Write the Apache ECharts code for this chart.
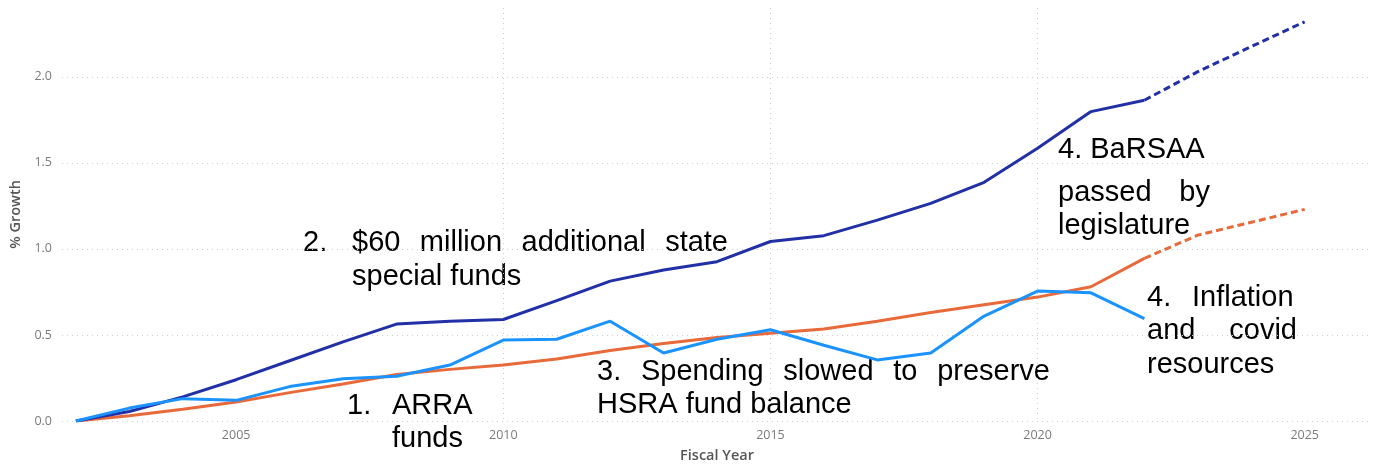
<!DOCTYPE html>
<html>
<head>
<meta charset="utf-8">
<script src="https://cdn.jsdelivr.net/npm/echarts@6/dist/echarts.min.js"></script>
<style>
  html, body { margin: 0; padding: 0; background: #fff; }
  #chart { width: 1377px; height: 466px; }
</style>
</head>
<body>
<div id="chart"></div>
<script>
// Fiscal years with actuals, and the projected tail
const years = [2002, 2003, 2004, 2005, 2006, 2007, 2008, 2009, 2010, 2011, 2012,
  2013, 2014, 2015, 2016, 2017, 2018, 2019, 2020, 2021, 2022];
const projYears = [2022, 2023, 2024, 2025];
const xTicks = [2005, 2010, 2015, 2020, 2025];

// % growth since 2002
const budgetGrowth = [0, 0.055, 0.14, 0.24, 0.35, 0.46, 0.563, 0.58, 0.59, 0.70, 0.813,
  0.878, 0.926, 1.043, 1.077, 1.167, 1.265, 1.387, 1.585, 1.798, 1.864];
const budgetProj = [1.864, 2.03, 2.176, 2.32];

const costGrowth = [0, 0.03, 0.068, 0.11, 0.165, 0.215, 0.27, 0.30, 0.325, 0.36, 0.41,
  0.45, 0.485, 0.51, 0.535, 0.58, 0.63, 0.675, 0.72, 0.78, 0.945];
const costProj = [0.945, 1.08, 1.155, 1.23];

const spendingGrowth = [0, 0.075, 0.13, 0.12, 0.20, 0.245, 0.26, 0.325, 0.47, 0.475, 0.58,
  0.395, 0.475, 0.53, 0.44, 0.355, 0.395, 0.61, 0.755, 0.745, 0.595];

const NAVY = '#2130a6';
const ORANGE = '#e8693a';
const SKY = '#1a93ff';

const pairs = (xs, ys) => xs.map((x, i) => [x, ys[i]]);

// annotation text: words spread between two edges like justified text
const NOTE_FONT = '29px "Liberation Sans", Arial, sans-serif';
const measure = document.createElement('canvas').getContext('2d');
measure.font = NOTE_FONT;

function note(text, x, y) {
  return {
    type: 'text', x, y, silent: true,
    style: { text, font: NOTE_FONT, fill: '#000', verticalAlign: 'middle' }
  };
}

function justified(words, x0, x1, y) {
  const widths = words.map((w) => measure.measureText(w).width);
  const total = widths.reduce((a, b) => a + b, 0);
  const gap = words.length > 1 ? (x1 - x0 - total) / (words.length - 1) : 0;
  let x = x0;
  return words.map((w, i) => {
    const el = note(w, x, y);
    x += widths[i] + gap;
    return el;
  });
}

const notes = [
  note('2.', 303, 243),
  ...justified(['$60', 'million', 'additional', 'state'], 352, 728, 243),
  note('special funds', 352, 277),
  note('1.', 347, 406),
  note('ARRA', 392, 406),
  note('funds', 392, 439),
  note('3.', 597, 372),
  ...justified(['Spending', 'slowed', 'to', 'preserve'], 641, 1050, 372),
  note('HSRA fund balance', 597, 405),
  note('4. BaRSAA', 1058, 150),
  ...justified(['passed', 'by'], 1058, 1210, 193),
  note('legislature', 1058, 226),
  note('4.', 1147, 298),
  note('Inflation', 1192, 298),
  ...justified(['and', 'covid'], 1147, 1297, 331),
  note('resources', 1147, 365)
];

const chart = echarts.init(document.getElementById('chart'), null, { renderer: 'canvas' });

const gridLine = { show: true, lineStyle: { color: '#cfcfcf', type: [1, 4], width: 1 } };
const tickFont = { color: '#7a7a7a', fontSize: 12.5, fontFamily: 'Open Sans' };
const nameFont = { color: '#555', fontSize: 14.5, fontWeight: 600, fontFamily: 'Open Sans' };

const option = {
  animation: false,
  grid: { left: 62, right: 5, top: 8, bottom: 45, outerBoundsMode: 'none' },
  xAxis: {
    type: 'value',
    min: 2001.74,
    max: 2026.26,
    name: 'Fiscal Year',
    nameLocation: 'middle',
    nameGap: 27,
    nameTextStyle: nameFont,
    axisLine: { show: false },
    axisTick: { show: false, customValues: xTicks },
    axisLabel: {
      ...tickFont, margin: 8,
      customValues: xTicks,
      formatter: (v) => String(v)
    },
    splitLine: { ...gridLine, showMinLine: false, showMaxLine: false }
  },
  yAxis: {
    type: 'value',
    min: 0,
    max: 2.4,
    interval: 0.5,
    name: '% Growth',
    nameLocation: 'middle',
    nameGap: 36,
    nameTextStyle: nameFont,
    axisLine: { show: false },
    axisTick: { show: false },
    axisLabel: {
      ...tickFont, margin: 10,
      showMaxLabel: false,
      formatter: (v) => v.toFixed(1)
    },
    splitLine: { ...gridLine, showMaxLine: false }
  },
  series: [
    { type: 'line', data: pairs(years, costGrowth), showSymbol: false, color: ORANGE,
      lineStyle: { width: 3 } },
    { type: 'line', data: pairs(projYears, costProj), showSymbol: false, color: ORANGE,
      lineStyle: { width: 3, type: [7, 4] } },
    { type: 'line', data: pairs(years, budgetGrowth), showSymbol: false, color: NAVY,
      lineStyle: { width: 3 } },
    { type: 'line', data: pairs(projYears, budgetProj), showSymbol: false, color: NAVY,
      lineStyle: { width: 3, type: [7, 4] } },
    { type: 'line', data: pairs(years, spendingGrowth), showSymbol: false, color: SKY,
      lineStyle: { width: 3 } }
  ],
  graphic: notes
};

chart.setOption(option);
</script>
</body>
</html>
